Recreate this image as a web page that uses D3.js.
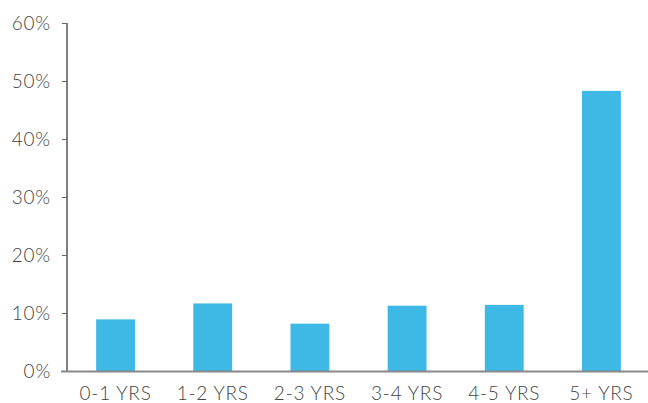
<!DOCTYPE html>
<html>
<head>
<meta charset="utf-8">
<script src="https://cdn.jsdelivr.net/npm/d3@7"></script>
<style>
  html, body { margin: 0; padding: 0; background: #fff; }
  svg { display: block; }
  .tick text { font-family: "Lato", "Open Sans", sans-serif; font-weight: 300; fill: #444; letter-spacing: 0.8px; }
</style>
</head>
<body>
<svg id="chart" width="648" height="403"></svg>
<script>
// Share of respondents by tenure band
const categories = ["0-1 YRS", "1-2 YRS", "2-3 YRS", "3-4 YRS", "4-5 YRS", "5+ YRS"];
const values = [0.089, 0.1165, 0.0816, 0.1126, 0.114, 0.483];
const yTicks = [0, 0.1, 0.2, 0.3, 0.4, 0.5, 0.6];

const svg = d3.select("#chart");
const plotLeft = 67, plotRight = 650, plotTop = 23, plotBottom = 371;

const x = d3.scaleBand()
  .domain(categories)
  .range([plotLeft, plotRight])
  .paddingInner(0.6)
  .paddingOuter(0.3);

const y = d3.scaleLinear()
  .domain([0, 0.6])
  .range([plotBottom, plotTop]);

// bars
svg.append("g")
  .selectAll("rect")
  .data(categories)
  .join("rect")
  .attr("x", d => x(d))
  .attr("width", x.bandwidth())
  .attr("y", (d, i) => y(values[i]))
  .attr("height", (d, i) => y(0) - y(values[i]))
  .attr("fill", "#3eb8e4");

// y axis
const yAxis = svg.append("g")
  .attr("transform", `translate(${plotLeft},0)`)
  .call(d3.axisLeft(y).tickValues(yTicks).tickFormat(d3.format(".0%")).tickSize(5).tickPadding(11));
yAxis.select(".domain").attr("stroke", "#000").attr("d", `M0,${plotTop}V${plotBottom}`);
yAxis.selectAll(".tick line").attr("stroke", "#666");
yAxis.selectAll(".tick text").style("font-size", "19px");

// x axis (baseline runs from the tick stubs to the right edge)
const xAxis = svg.append("g")
  .attr("transform", `translate(0,${plotBottom})`)
  .call(d3.axisBottom(x).tickSize(0).tickPadding(16));
xAxis.select(".domain").attr("stroke", "#888").attr("stroke-width", 2).attr("d", `M${plotLeft - 6},0.5H648`);
xAxis.selectAll(".tick text").style("font-size", "19px");
</script>
</body>
</html>
